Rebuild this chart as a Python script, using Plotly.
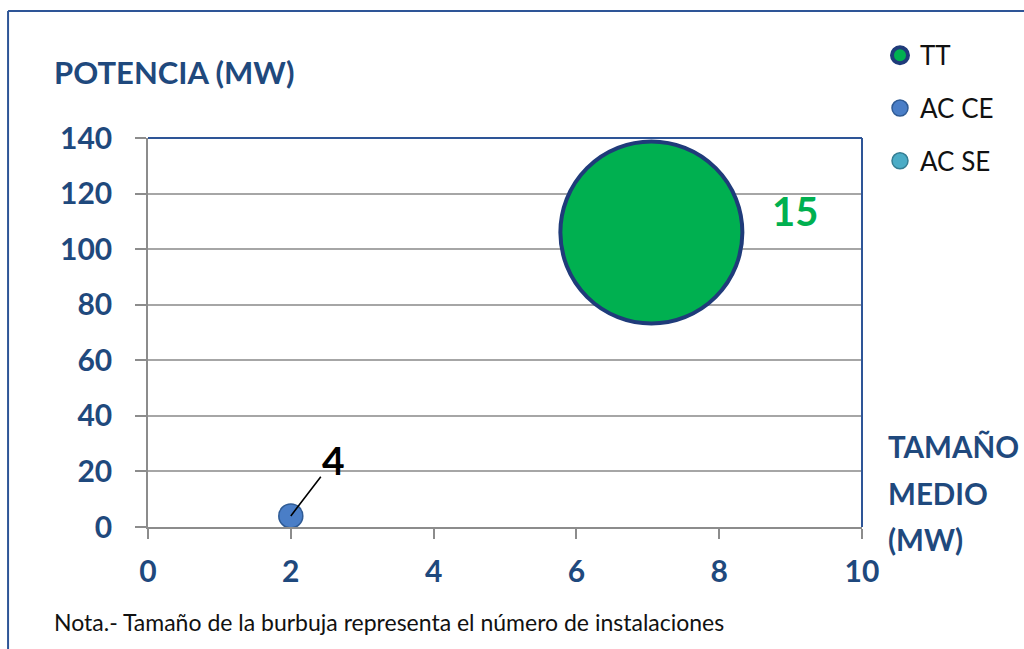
import plotly.graph_objects as go

# ---- data ----
series_names = ["TT", "AC CE", "AC SE"]
tamano_medio = [[7.05], [2.0], [None]]    # x: average size (MW); AC SE has no visible bubble
potencia = [[106.0], [4.0], [None]]       # y: power (MW)
instalaciones = [[15], [4], [None]]       # number of installations (bubble labels)

x_ticks = [0, 2, 4, 6, 8, 10]
y_ticks = [0, 20, 40, 60, 80, 100, 120, 140]

# ---- styles ----
fills = ["#00B050", "#4A7EC7", "#4BACC6"]
edges = ["#1F3B7A", "#2F5B95", "#357E93"]
edge_w = [4, 1.5, 1.5]
diam = [182, 24, 24]
label_colors = ["#00B050", "#000000", "#000000"]
navy = "#1F497D"
font_main = "Lato"

fig = go.Figure()
for i, name in enumerate(series_names):
    fig.add_trace(go.Scatter(
        x=tamano_medio[i], y=potencia[i], mode="markers", name=name,
        legendgroup=name,
        marker=dict(size=diam[i], color=fills[i],
                    line=dict(color=edges[i], width=edge_w[i])),
        cliponaxis=False, showlegend=True,
    ))

# bubble labels
fig.add_annotation(x=tamano_medio[0][0], y=potencia[0][0], text=str(instalaciones[0][0]),
                   showarrow=False, xshift=144, yshift=21,
                   font=dict(family=font_main, size=40, color=label_colors[0], weight="bold"))
fig.add_annotation(x=tamano_medio[1][0], y=potencia[1][0], text=str(instalaciones[1][0]),
                   showarrow=True, arrowhead=0, arrowwidth=1.6, arrowcolor="#000000",
                   ax=43, ay=-56, standoff=0,
                   font=dict(family=font_main, size=39, color=label_colors[1], weight="bold"))

# axis titles
fig.add_annotation(xref="paper", yref="paper", x=-0.1345, y=1.1697, xanchor="left", yanchor="middle",
                   text="POTENCIA (MW)", showarrow=False,
                   font=dict(family=font_main, size=31, color=navy, weight="bold"))
for txt, yy in zip(["TAMAÑO", "MEDIO", "(MW)"], [0.2057, 0.0874, -0.0334]):
    fig.add_annotation(xref="paper", yref="paper", x=1.0335, y=yy, xanchor="left", yanchor="middle",
                       text=txt, showarrow=False,
                       font=dict(family=font_main, size=29.5, color=navy, weight="bold"))
# note
fig.add_annotation(xref="paper", yref="paper", x=-0.1345, y=-0.2442, xanchor="left", yanchor="middle",
                   text="Nota.- Tamaño de la burbuja representa el número de instalaciones",
                   showarrow=False,
                   font=dict(family=font_main, size=23, color="#111111"))

# plot-area top and right border (blue) and outer frame
fig.add_shape(type="line", xref="paper", yref="paper", x0=0, x1=1, y0=1, y1=1,
              line=dict(color="#2E5597", width=2))
fig.add_shape(type="line", xref="paper", yref="paper", x0=1, x1=1, y0=0, y1=1,
              line=dict(color="#2E5597", width=2))
fig.add_shape(type="line", xref="paper", yref="paper", x0=-0.196, x1=1.25, y0=1.3265, y1=1.3265,
              line=dict(color="#2E5597", width=2))
fig.add_shape(type="line", xref="paper", yref="paper", x0=-0.196, x1=-0.196, y0=-0.35, y1=1.3265,
              line=dict(color="#2E5597", width=2))

fig.update_layout(
    width=1024, height=649,
    margin=dict(l=148, r=162, t=138, b=122),
    paper_bgcolor="white", plot_bgcolor="white",
    showlegend=True,
    legend=dict(x=1.0252, y=1.273, xanchor="left", yanchor="top",
                font=dict(family=font_main, size=26, color="#111111"),
                tracegroupgap=16, itemsizing="trace", bgcolor="rgba(0,0,0,0)"),
    xaxis=dict(range=[0, 10], tickvals=x_ticks, showgrid=False, zeroline=False,
               showline=True, linecolor="#8C8C8C", linewidth=1.5,
               ticks="outside", ticklen=10, tickcolor="#8C8C8C", tickwidth=1.5,
               ticklabelstandoff=7,
               tickfont=dict(family=font_main, size=30, color=navy, weight="bold")),
    yaxis=dict(range=[0, 140], tickvals=y_ticks, showgrid=True, gridcolor="#A6A6A6", gridwidth=1.5,
               zeroline=False, showline=True, linecolor="#8C8C8C", linewidth=1.5,
               ticks="outside", ticklen=11, tickcolor="#8C8C8C", tickwidth=1.5,
               ticklabelstandoff=17,
               tickfont=dict(family=font_main, size=30, color=navy, weight="bold")),
)

fig.write_html("out.html", config={"displayModeBar": False},
               post_script="document.body.style.margin='0';")
